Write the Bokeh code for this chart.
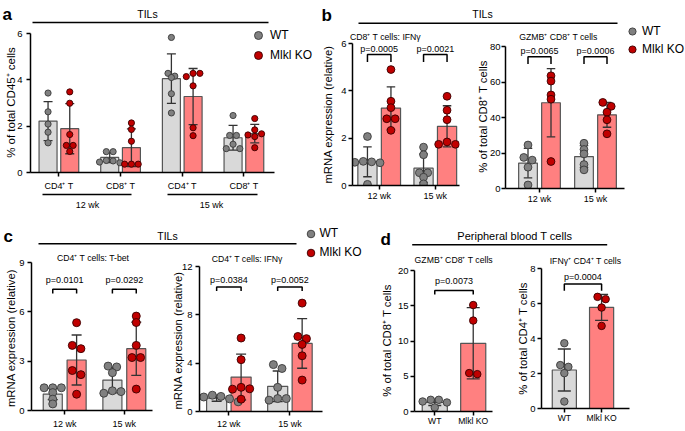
import math
from bokeh.plotting import figure
from bokeh.models import (Range1d, FixedTicker, Label, Legend, LegendItem,
                          ColumnDataSource, Whisker, TeeHead)
from bokeh.embed import file_html
from bokeh.resources import INLINE
from bokeh.core.properties import value

# ---------------- data ----------------
# panel a : TILs, % of total CD45+ cells
a_categories = ["CD4⁺ T", "CD8⁺ T", "CD4⁺ T", "CD8⁺ T"]
a_timepoints = ["12 wk", "15 wk"]
a_yticks = [0, 2, 4, 6]
a_wt_mean = [2.22, 0.65, 4.05, 1.50]
a_wt_sd = [0.84, 0.22, 1.07, 0.53]
a_ko_mean = [1.89, 1.07, 3.28, 1.68]
a_ko_sd = [1.08, 0.81, 1.21, 0.40]
a_wt_points = [[3.43, 2.62, 2.09, 1.74, 1.28],
               [0.90, 0.90, 0.52, 0.50, 0.45, 0.42],
               [5.83, 4.28, 4.16, 4.10, 3.40, 2.57],
               [2.46, 1.60, 1.60, 1.22, 1.03, 1.03]]
a_ko_points = [[3.48, 2.99, 1.64, 1.17, 1.17, 0.91],
               [2.14, 1.86, 1.35, 0.36, 0.36, 0.36],
               [4.28, 4.28, 4.14, 3.74, 1.93, 1.59],
               [2.33, 1.84, 1.67, 1.62, 1.55, 1.07]]

timepoints = ["12 wk", "15 wk"]
legend_labels = ["WT", "Mlkl KO"]

# panel b1 : CD8+ T cells: IFNy mRNA
b1_yticks = [0, 2, 4, 6]
b1_wt_mean = [1.00, 0.73]
b1_wt_sd = [0.63, 0.60]
b1_ko_mean = [3.27, 2.50]
b1_ko_sd = [0.90, 0.87]
b1_wt_points = [[2.07, 1.02, 1.00, 0.98, 0.96, 0.05], [1.62, 1.30, 0.54, 0.54, 0.35, 0.07]]
b1_ko_points = [[4.90, 3.56, 3.29, 2.82, 2.82, 2.33], [3.77, 3.18, 2.78, 1.84, 1.74, 1.74]]
b1_pvalues = ["p=0.0005", "p=0.0021"]
b1_bracket_top = [5.54, 5.54]
b1_bracket_leg = [5.22, 5.22]
b1_pvalue_y = [5.78, 5.78]

# panel b2 : GZMB+ CD8+ T cells (% of CD8+)
b2_yticks = [0, 20, 40, 60, 80]
b2_wt_mean = [14.3, 18.0]
b2_wt_sd = [8.3, 6.2]
b2_ko_mean = [48.3, 41.5]
b2_ko_sd = [19.2, 7.0]
b2_wt_points = [[24.5, 17.5, 16.0, 12.0, 2.0], [25.5, 22.0, 19.5, 13.5, 10.5]]
b2_ko_points = [[63.5, 60.5, 52.7, 50.3, 15.2], [48.5, 46.3, 43.0, 38.7, 30.8]]
b2_pvalues = ["p=0.0065", "p=0.0006"]
b2_bracket_top = [74.2, 74.2]
b2_bracket_leg = [70.2, 70.2]
b2_pvalue_y = [77.2, 77.2]

# panel c1 : CD4+ T cells: T-bet mRNA
c1_yticks = [0, 3, 6, 9]
c1_wt_mean = [1.00, 1.85]
c1_wt_sd = [0.34, 0.78]
c1_ko_mean = [3.07, 3.76]
c1_ko_sd = [1.52, 1.62]
c1_wt_points = [[1.38, 1.38, 1.38, 1.09, 0.69, 0.40], [2.70, 2.65, 2.30, 1.20, 1.15, 1.05]]
c1_ko_points = [[5.34, 3.96, 3.76, 2.43, 2.18, 0.99], [5.74, 5.35, 3.96, 3.22, 3.22, 1.30]]
c1_pvalues = ["p=0.0101", "p=0.0292"]
c1_bracket_top = [7.38, 7.38]
c1_bracket_leg = [7.12, 7.12]
c1_pvalue_y = [7.91, 7.91]

# panel c2 : CD4+ T cells: IFNy mRNA
c2_yticks = [0, 4, 8, 12]
c2_wt_mean = [1.10, 2.08]
c2_wt_sd = [0.25, 1.27]
c2_ko_mean = [2.85, 5.63]
c2_ko_sd = [1.90, 2.05]
c2_wt_points = [[1.35, 1.25, 1.20, 1.05, 0.90, 0.80], [3.88, 3.56, 2.00, 1.07, 1.07, 0.94]]
c2_ko_points = [[6.08, 4.29, 2.00, 1.88, 1.85, 1.02], [8.97, 6.21, 6.03, 5.55, 4.61, 2.60]]
c2_pvalues = ["p=0.0384", "p=0.0052"]
c2_bracket_top = [10.31, 10.31]
c2_bracket_leg = [9.97, 9.97]
c2_pvalue_y = [10.85, 10.85]

# panel d1 : peripheral blood GZMB+ CD8+ T cells
genotypes = ["WT", "Mlkl KO"]
d1_yticks = [0, 5, 10, 15, 20]
d1_wt_mean = [1.30]
d1_wt_sd = [0.45]
d1_ko_mean = [9.67]
d1_ko_sd = [5.05]
d1_wt_points = [[1.66, 1.66, 1.42, 1.28, 0.57]]
d1_ko_points = [[15.1, 12.9, 5.45, 5.30]]
d1_pvalues = ["p=0.0073"]
d1_bracket_top = [17.16]
d1_bracket_leg = [16.59]
d1_pvalue_y = [18.56]

# panel d2 : peripheral blood IFNy+ CD4+ T cells
d2_yticks = [0, 2, 4, 6, 8]
d2_wt_mean = [2.20]
d2_wt_sd = [1.20]
d2_ko_mean = [5.78]
d2_ko_sd = [0.74]
d2_wt_points = [[3.73, 2.48, 2.38, 2.02, 0.40]]
d2_ko_points = [[6.38, 6.25, 5.77, 4.72]]
d2_pvalues = ["p=0.0004"]
d2_bracket_top = [7.11]
d2_bracket_leg = [6.73]
d2_pvalue_y = [7.53]

# ---------------- layout / style ----------------
W, H = 685, 431
SX, SY = W / 685.0, H / 431.0
FS = (SX + SY) / 2.0
FONT = "Liberation Sans"
WT_FILL, KO_FILL = "#d9d9d9", "#ff8080"
BAR_EDGE = "#555555"
WT_DOT, WT_DOT_EDGE = "#808080", "#3a3a3a"
KO_DOT, KO_DOT_EDGE = "#c00000", "#3a0000"
ERR = "#333333"
STACK = {"position": "absolute", "left": "0px", "top": "0px"}


def px(v):
    return f"{v * FS:.1f}px"


def swarm(vals, ppu_y, ppu_x, d):
    n = len(vals)
    ys = [v * ppu_y for v in vals]
    order = sorted(range(n), key=lambda i: -vals[i])
    cands = [0.0]
    for k in range(1, 14):
        cands += [k * d / 2.0, -k * d / 2.0]
    off = [0.0] * n
    placed = []
    for i in order:
        for c in cands:
            if all((c - ox) ** 2 + (ys[i] - oy) ** 2 >= (0.95 * d) ** 2 for ox, oy in placed):
                break
        off[i] = c
        placed.append((c, ys[i]))
    done = [False] * n
    for i in order:
        if done[i]:
            continue
        cl = [j for j in range(n) if not done[j] and abs(ys[j] - ys[i]) < 0.5 * d]
        m = sum(off[j] for j in cl) / len(cl)
        for j in cl:
            off[j] -= m
            done[j] = True
    return [o / ppu_x for o in off]


def subplot(spec, yticks, xlabels, wt_mean, wt_sd, ko_mean, ko_sd, wt_pts, ko_pts,
            pvals=None, br_top=None, br_leg=None, p_y=None):
    L, R, T, B = spec["frame"]
    fl, fr_, ft, fb = round(L * SX), round(R * SX), round(T * SY), round(B * SY)
    c0, sp = spec["c0"], spec["sp"]
    x0, x1 = (L - c0) / sp, (R - c0) / sp
    ymax = yticks[-1]
    p = figure(width=W, height=H, output_backend="svg", toolbar_location=None, title=None,
               x_range=Range1d(x0, x1), y_range=Range1d(0, ymax),
               min_border_left=fl, min_border_right=W - fr_,
               min_border_top=ft, min_border_bottom=H - fb, styles=STACK)
    p.outline_line_color = None
    p.background_fill_color = None
    p.border_fill_color = None
    p.grid.visible = False
    ppx = (fr_ - fl) / (x1 - x0)
    ppy = (fb - ft) / ymax
    n = len(wt_mean)
    off = spec["off"] / sp
    bw = spec["bw"] / sp
    wt_x = [i - off for i in range(n)]
    ko_x = [i + off for i in range(n)]
    p.vbar(x=wt_x, top=wt_mean, bottom=0, width=bw, fill_color=WT_FILL,
           line_color=BAR_EDGE, line_width=1.2, level="underlay")
    p.vbar(x=ko_x, top=ko_mean, bottom=0, width=bw, fill_color=KO_FILL,
           line_color=BAR_EDGE, line_width=1.2, level="underlay")
    for xs, m, s in ((wt_x, wt_mean, wt_sd), (ko_x, ko_mean, ko_sd)):
        src = ColumnDataSource(dict(base=xs, upper=[a + b for a, b in zip(m, s)],
                                    lower=[a - b for a, b in zip(m, s)]))
        wk = Whisker(source=src, base="base", upper="upper", lower="lower",
                     line_color=ERR, line_width=1.3, level="underlay",
                     upper_head=TeeHead(size=spec["cap"], line_color=ERR, line_width=1.3),
                     lower_head=TeeHead(size=spec["cap"], line_color=ERR, line_width=1.3))
        p.add_layout(wk)
    dot = spec["dot"] * FS
    for xs, pts, fc, lc in ((wt_x, wt_pts, WT_DOT, WT_DOT_EDGE), (ko_x, ko_pts, KO_DOT, KO_DOT_EDGE)):
        X, Yv = [], []
        for gi, vals in enumerate(pts):
            offs = swarm(vals, ppy, ppx, dot + 0.6)
            X += [xs[gi] + o for o in offs]
            Yv += list(vals)
        p.scatter(x=X, y=Yv, size=dot, marker="circle", fill_color=fc,
                  line_color=lc, line_width=0.9)
    if pvals:
        bxs = [[wt_x[i], wt_x[i], ko_x[i], ko_x[i]] for i in range(n)]
        bys = [[br_leg[i], br_top[i], br_top[i], br_leg[i]] for i in range(n)]
        p.multi_line(xs=bxs, ys=bys, line_color="black", line_width=1.5)
        p.text(x=[(wt_x[i] + ko_x[i]) / 2 for i in range(n)], y=p_y, text=pvals,
               text_align="center", text_baseline="middle", text_color="black",
               text_font=value(FONT), text_font_size=value(px(9)))
    ticks = spec.get("ticks", list(range(n)))
    xa, ya = p.xaxis[0], p.yaxis[0]
    xa.ticker = FixedTicker(ticks=ticks)
    xa.major_label_overrides = {t: lab for t, lab in zip(ticks, xlabels)}
    xa.major_label_standoff = spec["xstand"]
    xa.major_label_text_font_size = px(spec["xfont"])
    ya.ticker = FixedTicker(ticks=yticks)
    ya.major_label_standoff = spec.get("ystand", 3)
    ya.major_label_text_font_size = px(9.5)
    for ax in (xa, ya):
        ax.axis_line_width = 1.5
        ax.axis_line_color = "black"
        ax.major_tick_line_width = 1.5
        ax.major_tick_line_color = "black"
        ax.major_tick_in = 0
        ax.major_tick_out = 4
        ax.minor_tick_line_color = None
        ax.major_label_text_font = FONT
        ax.major_label_text_color = "black"
    return p


specs = {
    "a": dict(frame=(30, 274, 33, 171.5), c0=58.4, sp=61.67, off=10.85, bw=18, dot=6.2, cap=9, xstand=4, xfont=9, ystand=4),
    "b1": dict(frame=(352, 459, 43.3, 185.3), c0=378.7, sp=56.1, off=11.75, bw=19.2, dot=7.8, cap=8.5, xstand=1, xfont=9, ystand=2),
    "b2": dict(frame=(505, 624, 45.7, 187.5), c0=539, sp=56, off=11.5, bw=18.7, dot=7.8, cap=8.5, xstand=1, xfont=9, ystand=1),
    "c1": dict(frame=(31, 151.7, 261.7, 413.3), c0=64.1, sp=59.5, off=11.9, bw=19, dot=8, cap=10, xstand=4, xfont=9, ystand=3),
    "c2": dict(frame=(199, 321.7, 265.7, 415), c0=228.3, sp=60.9, off=12.2, bw=20, dot=8, cap=10, xstand=3, xfont=9, ystand=3),
    "d1": dict(frame=(414, 491.7, 270, 410.7), c0=453.35, sp=38.3, off=19.15, bw=25, dot=7.5, cap=13, xstand=0, xfont=8.6, ystand=2, ticks=[-0.5, 0.5]),
    "d2": dict(frame=(541, 629.3, 267.7, 407.7), c0=582.6, sp=37.4, off=18.7, bw=24.2, dot=7.5, cap=13, xstand=0, xfont=8.6, ystand=2, ticks=[-0.5, 0.5]),
}

fa = subplot(specs["a"], a_yticks, a_categories, a_wt_mean, a_wt_sd, a_ko_mean, a_ko_sd,
             a_wt_points, a_ko_points)
fb1 = subplot(specs["b1"], b1_yticks, timepoints, b1_wt_mean, b1_wt_sd, b1_ko_mean, b1_ko_sd,
              b1_wt_points, b1_ko_points, b1_pvalues, b1_bracket_top, b1_bracket_leg, b1_pvalue_y)
fb2 = subplot(specs["b2"], b2_yticks, timepoints, b2_wt_mean, b2_wt_sd, b2_ko_mean, b2_ko_sd,
              b2_wt_points, b2_ko_points, b2_pvalues, b2_bracket_top, b2_bracket_leg, b2_pvalue_y)
fc1 = subplot(specs["c1"], c1_yticks, timepoints, c1_wt_mean, c1_wt_sd, c1_ko_mean, c1_ko_sd,
              c1_wt_points, c1_ko_points, c1_pvalues, c1_bracket_top, c1_bracket_leg, c1_pvalue_y)
fc2 = subplot(specs["c2"], c2_yticks, timepoints, c2_wt_mean, c2_wt_sd, c2_ko_mean, c2_ko_sd,
              c2_wt_points, c2_ko_points, c2_pvalues, c2_bracket_top, c2_bracket_leg, c2_pvalue_y)
fd1 = subplot(specs["d1"], d1_yticks, genotypes, d1_wt_mean, d1_wt_sd, d1_ko_mean, d1_ko_sd,
              d1_wt_points, d1_ko_points, d1_pvalues, d1_bracket_top, d1_bracket_leg, d1_pvalue_y)
fd2 = subplot(specs["d2"], d2_yticks, genotypes, d2_wt_mean, d2_wt_sd, d2_ko_mean, d2_ko_sd,
              d2_wt_points, d2_ko_points, d2_pvalues, d2_bracket_top, d2_bracket_leg, d2_pvalue_y)

# ---------------- decorations (headers, titles, axis titles, legends) ----------------
decor = figure(width=W, height=H, output_backend="svg", toolbar_location=None, title=None,
               x_range=Range1d(0, W), y_range=Range1d(H, 0),
               x_axis_location=None, y_axis_location=None, min_border=0, styles=STACK)
decor.outline_line_color = None
decor.grid.visible = False


def dlabel(x, y, text, size, bold=False, align="center", baseline="middle", angle=0.0):
    decor.add_layout(Label(x=x * SX, y=y * SY, text=text, text_font=FONT, text_font_size=px(size),
                           text_font_style="bold" if bold else "normal", text_align=align,
                           text_baseline=baseline, angle=angle, text_color="black"))


# panel letters
dlabel(2, 14, "a", 17, bold=True, align="left", baseline="alphabetic")
dlabel(321, 15, "b", 17, bold=True, align="left", baseline="alphabetic")
dlabel(3, 236, "c", 17, bold=True, align="left", baseline="alphabetic")
dlabel(380, 238.5, "d", 17, bold=True, align="left", baseline="alphabetic")
# header texts
dlabel(147, 13, "TILs", 10.5)
dlabel(482, 13, "TILs", 10.5)
dlabel(167, 235, "TILs", 10.5)
dlabel(514.3, 235, "Peripheral blood T cells", 11)
# timepoint labels of panel a
dlabel(87, 204, a_timepoints[0], 9)
dlabel(211, 204, a_timepoints[1], 9)
# subplot titles
dlabel(385, 36, "CD8⁺ T cells: IFNγ", 8.7)
dlabel(558, 36, "GZMB⁺ CD8⁺ T cells", 8.7)
dlabel(92.7, 257.3, "CD4⁺ T cells: T-bet", 8.7)
dlabel(246.7, 258.3, "CD4⁺ T cells: IFNγ", 8.7)
dlabel(453.3, 259, "GZMB⁺ CD8⁺ T cells", 8.7)
dlabel(585, 260, "IFNγ⁺ CD4⁺ T cells", 8.7)
# y-axis titles
V = math.pi / 2
dlabel(10, 102, "% of total CD45⁺ cells", 11.5, angle=V)
dlabel(327, 114, "mRNA expression (relative)", 11.3, angle=V)
dlabel(482, 116, "% of total CD8⁺ T cells", 11.3, angle=V)
dlabel(10, 337.5, "mRNA expression (relative)", 11.3, angle=V)
dlabel(177, 340, "mRNA expression (relative)", 11.3, angle=V)
dlabel(386.7, 340, "% of total CD8⁺ T cells", 11.3, angle=V)
dlabel(522, 338, "% of total CD4⁺ T cells", 11.3, angle=V)
# header / grouping rules
rules_x0 = [32, 358, 38, 411.7, 42, 167]
rules_x1 = [268, 617, 296, 606.7, 131, 257]
rules_y = [22, 22.7, 243.3, 244.3, 194, 194]
decor.segment(x0=[v * SX for v in rules_x0], x1=[v * SX for v in rules_x1],
              y0=[v * SY for v in rules_y], y1=[v * SY for v in rules_y],
              line_color="black", line_width=1.5)

# legend proxies (same style as the data points; their single point lies off-canvas)
proxy_wt = decor.scatter(x=[-50], y=[-50], size=8, marker="circle", fill_color=WT_DOT,
                         line_color=WT_DOT_EDGE, line_width=0.9)
proxy_ko = decor.scatter(x=[-50], y=[-50], size=8, marker="circle", fill_color=KO_DOT,
                         line_color=KO_DOT_EDGE, line_width=0.9)


def add_legend(dot_x, dot_y, pitch, text_gap):
    gh = int(round(pitch * SY))
    gw = gh
    left = dot_x * SX - gw / 2.0
    top = dot_y * SY - gh / 2.0
    leg = Legend(items=[LegendItem(label=legend_labels[0], renderers=[proxy_wt]),
                        LegendItem(label=legend_labels[1], renderers=[proxy_ko])],
                 location=(left, H - (top + 2 * gh)),
                 orientation="vertical", glyph_width=gw, glyph_height=gh, label_height=gh,
                 label_standoff=max(0, int(round(text_gap * SX - gw / 2.0))),
                 spacing=0, padding=0, margin=0, border_line_color=None,
                 background_fill_alpha=0, label_text_font=FONT, label_text_font_size=px(12),
                 label_text_color="black")
    decor.add_layout(leg)


add_legend(258, 35, 20, 12)
add_legend(632, 31, 18.3, 10)
add_legend(310, 233, 19, 10)

# independent roots stacked on the same page area (no frame alignment between them)
layers = [decor, fa, fb1, fb2, fc1, fc2, fd1, fd2]
open("out.html", "w").write(file_html(layers, INLINE))
